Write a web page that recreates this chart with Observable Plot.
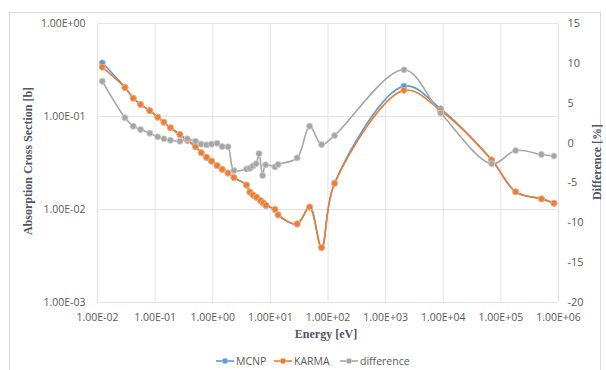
<!DOCTYPE html>
<html>
<head>
<meta charset="utf-8">
<script src="https://cdn.jsdelivr.net/npm/d3@7"></script>
<script src="https://cdn.jsdelivr.net/npm/@observablehq/plot@0.6"></script>
<style>
  html, body { margin: 0; padding: 0; background: #ffffff; }
  #wrap { position: relative; width: 606px; height: 370px; overflow: hidden; font-family: "Open Sans", sans-serif; }
  #frame { position: absolute; left: 9px; top: 12px; width: 592px; height: 360px; border: 1px solid #d9d9d9; box-sizing: border-box; }
  #chart { position: absolute; left: 0; top: 0; }
  .title { position: absolute; font-family: "Liberation Serif", "DejaVu Serif", serif; font-weight: bold; font-size: 12px; color: #4d5566; white-space: nowrap; }
  #legend { position: absolute; top: 353px; left: 0; width: 606px; height: 16px; font-size: 10.5px; color: #595959; }
  .item { position: absolute; top: 0; display: flex; align-items: center; height: 16px; }
  .item svg { margin-right: 2px; }
</style>
</head>
<body>
<div id="wrap">
  <div id="frame"></div>
  <div id="chart"></div>
  <div class="title" id="ytitle">Absorption Cross Section [b]</div>
  <div class="title" id="y2title">Difference [%]</div>
  <div class="title" id="xtitle">Energy [eV]</div>
  <div id="legend"></div>
</div>
<script>
// ---- Data ----
const energy = [0.0121, 0.0300, 0.0417, 0.0559, 0.0809, 0.111, 0.142, 0.184, 0.269, 0.361, 0.502, 0.631, 0.780, 0.953, 1.19, 1.46, 1.84, 2.33, 3.86, 4.41, 4.97, 5.76, 6.76, 7.53, 8.42, 12.0, 13.6, 29.1, 48.0, 77.4, 130, 2080, 9020, 69200, 180700, 505000, 835000];
const mcnp = [0.378, 0.206, 0.158, 0.1350, 0.1158, 0.0985, 0.0870, 0.0757, 0.0641, 0.0556, 0.0472, 0.0405, 0.0362, 0.0330, 0.0296, 0.0270, 0.0246, 0.0219, 0.01825, 0.01535, 0.0143, 0.01350, 0.0124, 0.0117, 0.0110, 0.00995, 0.00870, 0.00695, 0.01060, 0.00388, 0.01925, 0.212, 0.121, 0.0340, 0.0155, 0.01300, 0.01168];
const karma = [0.339, 0.204, 0.157, 0.1346, 0.1154, 0.0983, 0.0868, 0.0756, 0.0640, 0.0555, 0.0476, 0.0410, 0.0365, 0.0332, 0.0297, 0.0271, 0.0247, 0.0221, 0.01834, 0.01543, 0.0144, 0.01356, 0.0125, 0.0118, 0.0111, 0.01005, 0.00879, 0.00702, 0.01064, 0.00390, 0.01905, 0.191, 0.116, 0.0342, 0.0155, 0.01303, 0.01169];
const diffEnergy = [0.0121, 0.0300, 0.0417, 0.0559, 0.0809, 0.111, 0.142, 0.184, 0.269, 0.361, 0.502, 0.631, 0.780, 0.953, 1.19, 1.46, 1.84, 2.33, 3.86, 4.41, 4.97, 5.65, 6.36, 7.32, 8.26, 12.0, 13.6, 29.1, 48.0, 77.4, 130, 2080, 9020, 69200, 180700, 505000, 835000];
const difference = [7.76, 3.17, 2.12, 1.70, 1.24, 0.79, 0.54, 0.36, 0.23, 0.54, 0.23, -0.14, -0.22, -0.14, -0.02, -0.43, -0.47, -3.44, -3.25, -3.15, -2.88, -2.60, -1.31, -4.07, -2.73, -2.98, -2.69, -1.85, 2.12, -0.18, 0.95, 9.19, 3.77, -2.60, -0.93, -1.43, -1.62];

const xTicks = [1e-2, 1e-1, 1e0, 1e1, 1e2, 1e3, 1e4, 1e5, 1e6];
const xTickLabels = ["1.00E-02", "1.00E-01", "1.00E+00", "1.00E+01", "1.00E+02", "1.00E+03", "1.00E+04", "1.00E+05", "1.00E+06"];
const yTicks = [1e-3, 1e-2, 1e-1, 1e0];
const yTickLabels = ["1.00E-03", "1.00E-02", "1.00E-01", "1.00E+00"];
const diffTicks = [-20, -15, -10, -5, 0, 5, 10, 15];
const diffTickLabels = ["-20", "-15", "-10", "-5", "0", "5", "10", "15"];

const seriesNames = ["MCNP", "KARMA", "difference"];
const colors = ["#5b9bd5", "#ed7d31", "#a5a5a5"];
const rings = ["#a9cbea", "#f6b68e", "#d2d2d2"];

// ---- Build ----
// secondary axis: difference [-20, 15] maps onto log10 of the primary [-3, 0]
const diffToLog = d3.scaleLinear().domain([-20, 15]).range([-3, 0]);
const toPrimary = d => Math.pow(10, diffToLog(d));

const mcnpData = energy.map((e, i) => ({e, v: mcnp[i]}));
const karmaData = energy.map((e, i) => ({e, v: karma[i]}));
const diffData = diffEnergy.map((e, i) => ({e, v: toPrimary(difference[i])}));
const diffTickData = diffTicks.map((t, i) => ({v: toPrimary(t), label: diffTickLabels[i]}));

const xLab = new Map(xTicks.map((t, i) => [t, xTickLabels[i]]));
const yLab = new Map(yTicks.map((t, i) => [t, yTickLabels[i]]));

function series(data, k) {
  return [
    Plot.line(data, {x: "e", y: "v", stroke: colors[k], strokeWidth: 1.6, curve: "catmull-rom"}),
    Plot.dot(data, {x: "e", y: "v", r: 3.1, fill: colors[k], stroke: rings[k], strokeWidth: 0.8})
  ];
}

const chart = Plot.plot({
  width: 606,
  height: 345,
  marginLeft: 97,
  marginRight: 48,
  marginTop: 23,
  marginBottom: 43,
  style: {fontFamily: "Open Sans, sans-serif", fontSize: "10.5px", color: "#595959", background: "transparent", overflow: "visible"},
  x: {type: "log", domain: [1e-2, 1e6]},
  y: {type: "log", domain: [1e-3, 1]},
  marks: [
    Plot.gridX(xTicks, {stroke: "#e4e4e4", strokeOpacity: 1}),
    Plot.gridY(yTicks, {stroke: "#e4e4e4", strokeOpacity: 1}),
    Plot.axisX(xTicks, {tickSize: 0, tickPadding: 11, tickFormat: d => xLab.get(d), label: null}),
    Plot.axisY(yTicks, {anchor: "left", tickSize: 0, tickPadding: 12, tickFormat: d => yLab.get(d), label: null}),
    Plot.text(diffTickData, {y: "v", text: "label", frameAnchor: "right", textAnchor: "start", dx: 9, fill: "#595959", fontSize: 11}),
    ...series(mcnpData, 0),
    ...series(karmaData, 1),
    ...series(diffData, 2)
  ]
});
document.getElementById("chart").appendChild(chart);

// axis titles
const yt = document.getElementById("ytitle");
yt.style.left = "28px"; yt.style.top = "161px";
yt.style.transform = "translate(-50%, -50%) rotate(-90deg)";
const y2 = document.getElementById("y2title");
y2.style.left = "597px"; y2.style.top = "162px";
y2.style.transform = "translate(-50%, -50%) rotate(-90deg)";
const xt = document.getElementById("xtitle");
xt.style.left = "326px"; xt.style.top = "334px";
xt.style.transform = "translate(-50%, -50%)";

// legend
const legend = document.getElementById("legend");
const legendLeft = [216, 274, 340];
seriesNames.forEach((name, k) => {
  const item = document.createElement("div");
  item.className = "item";
  item.style.left = legendLeft[k] + "px";
  item.innerHTML = `<svg width="18" height="10"><line x1="0" y1="5" x2="18" y2="5" stroke="${colors[k]}" stroke-width="1.6"/><circle cx="9" cy="5" r="2.8" fill="${colors[k]}" stroke="${rings[k]}" stroke-width="0.8"/></svg><span>${name}</span>`;
  legend.appendChild(item);
});
</script>
</body>
</html>
